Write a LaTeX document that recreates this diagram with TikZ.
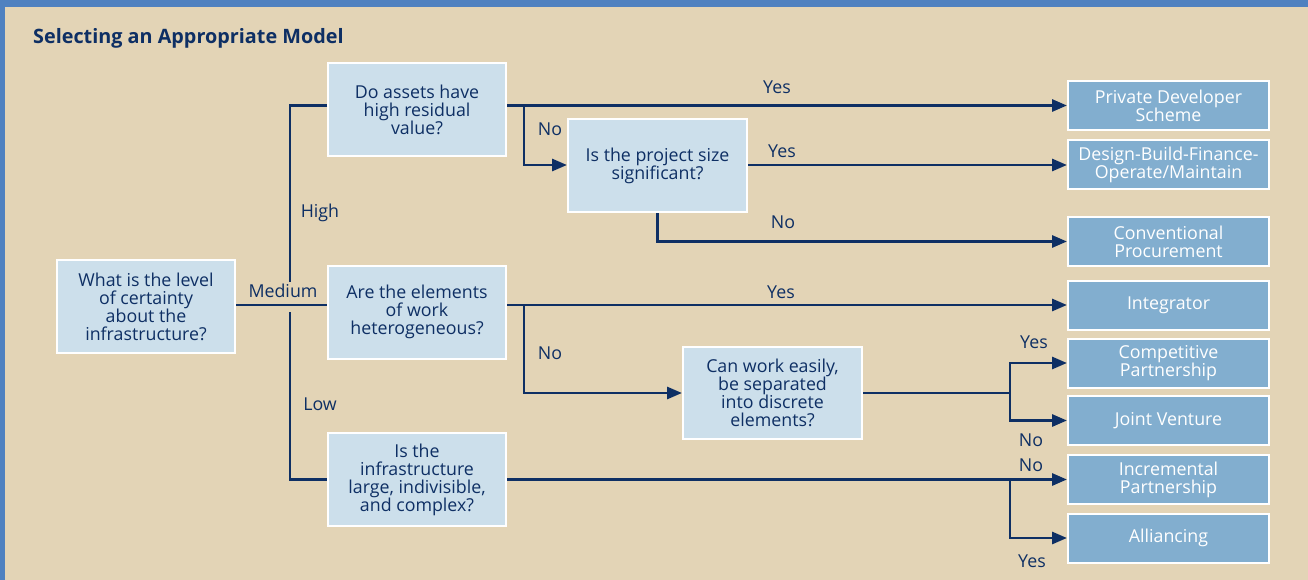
\documentclass[tikz,border=0pt]{standalone}
\usepackage{fontspec}
\setmainfont{Open Sans}
\usepackage{tikz}
\usetikzlibrary{arrows.meta,positioning}
\usepackage{xcolor}
\definecolor{navy}{RGB}{14,47,100}
\definecolor{beige}{RGB}{227,212,182}
\definecolor{lightbox}{RGB}{204,223,235}
\definecolor{darkbox}{RGB}{130,174,207}
\definecolor{frameblue}{RGB}{79,129,192}
\tikzstyle{link} = [line width=2.9pt,color=navy]
\tikzstyle{arrow} = [link,-{Triangle[length=15pt,width=12pt]}]
\tikzstyle{question} = [draw=white,line width=2pt,fill=lightbox,text=navy,align=center,minimum width=178pt,minimum height=93pt,font=\fontsize{17.8}{18}\selectfont]
\tikzstyle{outcome} = [draw=white,line width=2pt,fill=darkbox,text=white,align=center,minimum width=201pt,minimum height=49pt,font=\fontsize{17.8}{18}\selectfont]
\tikzstyle{lbl} = [text=navy,font=\fontsize{17.8}{18}\selectfont,inner sep=1pt]

\begin{document}
\begin{tikzpicture}[x=1pt,y=-1pt]
\useasboundingbox (0,0) rectangle (1308,580);
\fill[frameblue] (0,0) rectangle (1308,580);
\fill[beige] (5,7) rectangle (1308,580);

% Title
\node[anchor=base west,text=navy,inner sep=0pt,font=\fontsize{19.8}{22}\selectfont\bfseries] (title) at (33,44) {Selecting an Appropriate Model};

% Questions
\node[question] (q0) at (146,306.5) {What is the level\\of certainty\\about the\\infrastructure?};
\node[question] (q1) at (417,109.5) {Do assets have\\high residual\\value?};
\node[question] (elem) at (417,312) {Are the elements\\of work\\heterogeneous?};
\node[question] (q3) at (417,479.5) {Is the\\infrastructure\\large, indivisible,\\and complex?};
\node[question,minimum width=179pt] (size) at (657.5,165.5) {Is the project size\\significant?};
\node[question,minimum width=179pt,minimum height=92pt] (sep) at (772.5,393) {Can work easily,\\be separated\\into discrete\\elements?};

% Outcomes
\node[outcome] (private) at (1168.5,105.5) {Private Developer\\Scheme};
\node[outcome] (dbfo) at (1168.5,165) {Design-Build-Finance-\\Operate/Maintain};
\node[outcome] (conv) at (1168.5,241.5) {Conventional\\Procurement};
\node[outcome] (integ) at (1168.5,305) {Integrator};
\node[outcome] (comp) at (1168.5,363) {Competitive\\Partnership};
\node[outcome] (jv) at (1168.5,420.5) {Joint Venture};
\node[outcome] (incr) at (1168.5,479.5) {Incremental\\Partnership};
\node[outcome] (alli) at (1168.5,538) {Alliancing};

% Certainty trunk
\coordinate (hiend) at (290,282);
\coordinate (lostart) at (290,312);
\draw[link] (q1.west |- private.west) -| (hiend);
\draw[link] (lostart) |- (q3.west);
\draw[link] (q0.east |- integ.west) -- (elem.west |- integ.west);
\node[lbl] (high) at (320,213) {High};
\node[lbl] (medium) at (283,291) {Medium};
\node[lbl] (low) at (320,404) {Low};

% Residual value
\coordinate (q1no) at (524,105.5);
\draw[arrow] (q1.east |- private.west) -- (private.west);
\draw[arrow] (q1no) |- (size.west |- dbfo.west);
\node[lbl] (q1yes) at (777,87) {Yes};
\node[lbl] (q1nolbl) at (550,129) {No};

% Project size
\draw[arrow] (size.east |- dbfo.west) -- (dbfo.west);
\draw[arrow] (size.south) |- (conv.west);
\node[lbl] (sizeyes) at (782,151) {Yes};
\node[lbl] (sizeno) at (783,222) {No};

% Heterogeneous
\coordinate (elemno) at (524,305);
\draw[arrow] (elem.east |- integ.west) -- (integ.west);
\draw[arrow] (elemno) |- (sep.west);
\node[lbl] (elemyes) at (781,292) {Yes};
\node[lbl] (elemnolbl) at (550,353) {No};

% Separable
\coordinate (split1) at (1010,393);
\draw[link] (sep.east) -- (split1);
\draw[arrow] (split1) |- (comp.west);
\draw[arrow] (split1) |- (jv.west);
\node[lbl] (sepyes) at (1034,342) {Yes};
\node[lbl] (sepno) at (1031,440) {No};

% Large, indivisible
\coordinate (split2) at (1010,479.5);
\draw[arrow] (q3.east) -- (incr.west);
\draw[arrow] (split2) |- (alli.west);
\node[lbl] (q3no) at (1031,465) {No};
\node[lbl] (q3yes) at (1032,561) {Yes};
\end{tikzpicture}
\end{document}
